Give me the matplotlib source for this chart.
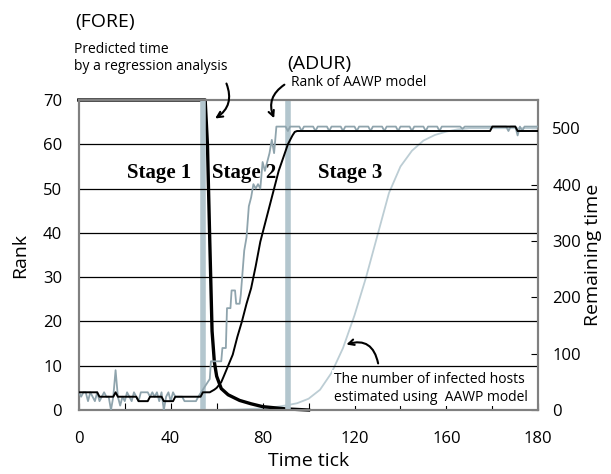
import matplotlib
matplotlib.use('Agg')
import matplotlib.pyplot as plt

plt.rcParams['font.family'] = ['Open Sans', 'DejaVu Sans']

# rank read by gray (AAWP rank) line
gray_t = [0, 1, 2, 3, 4, 5, 6, 7, 8, 9, 10, 11, 12, 13, 14, 15, 16, 17, 18, 19,
          20, 21, 22, 23, 24, 25, 26, 27, 30, 31, 32, 33, 34, 35, 36, 37, 38, 39,
          40, 41, 42, 43, 45, 46, 51, 52, 57, 57.5, 62, 62.5, 64, 64.5, 66, 66.5,
          68, 68.5, 70, 70.5, 72, 73, 74, 75, 76, 77, 78, 79, 80, 81, 82, 83, 84,
          85, 86, 90, 91, 92, 96, 97, 98, 102, 103, 104, 108, 109, 110, 114, 115,
          116, 120, 121, 122, 126, 127, 128, 132, 133, 134, 138, 139, 140, 144,
          145, 146, 150, 151, 152, 156, 157, 158, 166, 167, 168, 186, 187, 188,
          190, 191, 192, 193, 194, 200]
gray_rank = [4, 3, 4, 4, 2, 4, 3, 2, 4, 2, 3, 4, 3, 3, 0, 3, 9, 3, 1, 3,
             2, 4, 3, 2, 4, 3, 2, 4, 4, 3, 4, 3, 4, 2, 4, 0, 3, 4,
             2, 4, 3, 3, 3, 2, 2, 3, 7, 11, 11, 14, 14, 23, 23, 27,
             27, 24, 24, 26, 36, 39, 46, 48, 51, 50, 51, 50, 56, 54, 56, 58, 61,
             58, 64, 64, 63, 64, 64, 63, 64, 64, 63, 64, 64, 63, 64, 64,
             63, 64, 64, 63, 64, 64, 63, 64, 64, 63, 64, 64, 63, 64,
             64, 63, 64, 64, 63, 64, 64, 63, 64, 64, 63.5, 64, 64, 63, 64,
             64, 62, 64, 63, 64, 64]

# black rank line
black_t = [0, 8, 9, 15, 16, 17, 25, 26, 30, 31, 36, 37, 41, 42, 53, 54, 57, 59,
           60, 62, 63, 65, 67, 69, 71, 73, 75, 77, 79, 81, 83, 85, 87, 89, 91,
           93, 94, 95, 160, 161, 179, 180, 190, 191, 200]
black_rank = [4, 4, 3, 3, 4, 3, 3, 2, 2, 3, 3, 2, 2, 3, 3, 4, 4, 4.6,
              5, 6.3, 7.5, 10, 12.5, 16.5, 20, 24, 27.5, 32.5, 38, 42, 46, 50, 54, 57, 60,
              62, 62.8, 63, 63, 63, 63, 64, 64, 63, 63]

# (FORE) predicted remaining time
fore_t = [0, 55, 56, 57, 58, 59, 60, 62, 65, 70, 75, 80, 85, 90, 95, 100]
fore_v = [550, 550, 470, 300, 140, 85, 60, 38, 27, 17, 11, 6, 4, 2, 1, 0]

# number of infected hosts (AAWP model)
host_t = [60, 70, 80, 85, 90, 95, 100, 105, 110, 115, 120, 125, 130, 135, 140,
          145, 150, 155, 160, 165, 170, 180, 190, 200]
host_v = [0, 1, 3, 5, 8, 12, 20, 36, 66, 110, 168, 235, 310, 385, 432,
          460, 478, 488, 494, 498, 500, 500, 500, 500]

stage_bounds = [54, 91]
x_labels = ['0', '', '40', '', '80', '', '120', '', '160', '', '180']

fig = plt.figure(figsize=(6.11, 4.74), dpi=100)
ax = fig.add_axes([0.129, 0.135, 0.752, 0.654])
ax2 = ax.twinx()

for b in stage_bounds:
    ax.axvline(b, color='#b3c6ce', lw=4, zorder=1)
for r in range(10, 70, 10):
    ax.axhline(r, color='black', lw=0.9, zorder=1)

ax2.plot(host_t, host_v, color='#bccdd4', lw=1.3, zorder=2)
ax.plot(gray_t, gray_rank, color='#8fa4ad', lw=1.3, zorder=3)
ax.plot(black_t, black_rank, color='black', lw=1.4, zorder=4)
ax2.plot(fore_t, fore_v, color='black', lw=2.4, zorder=5, clip_on=False)

ax.set_xlim(0, 200)
ax.set_ylim(0, 70)
ax2.set_ylim(0, 550)
ax.set_zorder(ax2.get_zorder() + 1)
ax.patch.set_visible(False)

ax.set_xticks(range(0, 201, 20))
ax.set_xticklabels(x_labels)
ax.tick_params(axis='x', direction='in', length=5, pad=15, labelsize=12)
ax.set_yticks(range(0, 71, 10))
ax.tick_params(axis='y', length=0, pad=12, labelsize=12)
ax2.set_yticks(range(0, 501, 100))
ax2.tick_params(axis='y', direction='in', length=5, pad=10, labelsize=12)

for a in (ax, ax2):
    for s in a.spines.values():
        s.set_color('#808080')
        s.set_linewidth(1.5)

ax.set_xlabel('Time tick', fontsize=14, labelpad=4)
ax.set_ylabel('Rank', fontsize=14, labelpad=10)
ax2.set_ylabel('Remaining time', fontsize=14, labelpad=2)

for label, xs in [('Stage 1', 35), ('Stage 2', 72), ('Stage 3', 118)]:
    ax.text(xs, 53.5, label, ha='center', va='center', fontsize=15,
            family='Liberation Serif', fontweight='bold', zorder=6)

fig.text(75 / 611, 1 - 22 / 474, '(FORE)', fontsize=14, va='center', ha='left')
fig.text(74 / 611, 1 - 58 / 474, 'Predicted time\nby a regression analysis',
         fontsize=10, va='center', ha='left', linespacing=1.25)
fig.text(287 / 611, 1 - 64 / 474, '(ADUR)', fontsize=14, va='center', ha='left')
fig.text(291 / 611, 1 - 83 / 474, 'Rank of AAWP model', fontsize=10,
         va='center', ha='left')

ax.annotate('', xy=(58.3, 65.5), xytext=(63.8, 74.3), annotation_clip=False,
            arrowprops=dict(arrowstyle='->', color='black', lw=1.5,
                            connectionstyle='arc3,rad=-0.45'))
ax.annotate('', xy=(85.5, 65.3), xytext=(90.5, 73.8), annotation_clip=False,
            arrowprops=dict(arrowstyle='->', color='black', lw=1.5,
                            connectionstyle='arc3,rad=0.45'))
ax.annotate('', xy=(115.3, 14.6), xytext=(130.5, 9.9), annotation_clip=False,
            arrowprops=dict(arrowstyle='->', color='black', lw=1.5,
                            connectionstyle='arc3,rad=0.6'))
ax.text(111.0, 4.9, 'The number of infected hosts\nestimated using  AAWP model',
        fontsize=10, va='center', ha='left', linespacing=1.3, zorder=7,
        bbox=dict(facecolor='white', edgecolor='none', pad=1))

fig.savefig('out.png', dpi=100)
